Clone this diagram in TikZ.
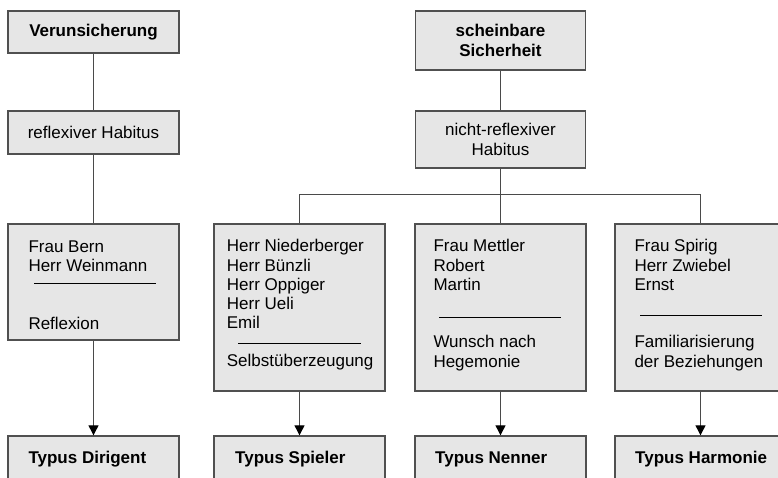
\documentclass[tikz,border=0pt]{standalone}
\usepackage{fontspec}
\setmainfont{Liberation Sans}
\usetikzlibrary{arrows.meta}
\definecolor{boxfill}{HTML}{E6E6E6}
\definecolor{boxline}{HTML}{505050}
\definecolor{conline}{HTML}{4A4A4A}
\begin{document}
\begin{tikzpicture}[x=1pt,y=-1pt,
  box/.style={draw=boxline,fill=boxfill,line width=1.4pt,rectangle,inner sep=0pt},
  headbox/.style={box,font=\fontsize{17}{19.5}\selectfont\bfseries,align=center},
  midbox/.style={box,font=\fontsize{17}{19.5}\selectfont,align=center},
  txt/.style={anchor=base west,inner sep=0pt,font=\fontsize{17}{19.5}\selectfont},
  btxt/.style={txt,font=\fontsize{17}{19.5}\selectfont\bfseries},
  con/.style={draw=conline,line width=1.2pt},
  arr/.style={con,-{Triangle[width=10pt,length=10pt,color=black]}},
  sep/.style={draw=black,line width=1pt}]
\useasboundingbox (0,0) rectangle (778,478);
\clip (0,0) rectangle (778,478);
% column 1
\node[headbox,minimum width=171pt,minimum height=42pt] (v1) at (93.5,32) {Verunsicherung};
\node[midbox,minimum width=171pt,minimum height=43pt] (h1) at (93.5,132.5) {reflexiver Habitus};
\node[box,minimum width=171pt,minimum height=116pt] (c1) at (93.5,282) {};
\node[box,minimum width=171pt,minimum height=46pt] (t1) at (93.5,459) {};
\node[txt] (c1a) at (28.3,252) {Frau Bern};
\node[txt] (c1b) at (28.3,271.3) {Herr Weinmann};
\coordinate (s1a) at (34,283.3); \coordinate (s1b) at (155.7,283.3);
\draw[sep] (s1a) -- (s1b);
\node[txt] (c1c) at (28.3,329) {Reflexion};
\node[btxt] (t1t) at (28.3,463.3) {Typus Dirigent};
% column 2
\node[headbox,minimum width=170pt,minimum height=59pt] (v2) at (500.5,40.5) {scheinbare\\Sicherheit};
\node[midbox,minimum width=170pt,minimum height=57pt] (h2) at (500.5,139.5) {nicht-reflexiver\\Habitus};
\node[box,minimum width=171pt,minimum height=167pt] (c2) at (299.5,307.5) {};
\node[box,minimum width=171pt,minimum height=46pt] (t2) at (299.5,459) {};
\node[txt] (c2a) at (226.7,251.7) {Herr Niederberger};
\node[txt] (c2b) at (226.7,271) {Herr Bünzli};
\node[txt] (c2c) at (226.7,290.3) {Herr Oppiger};
\node[txt] (c2d) at (226.7,309.6) {Herr Ueli};
\node[txt] (c2e) at (226.7,328.9) {Emil};
\coordinate (s2a) at (238,343); \coordinate (s2b) at (360.7,343);
\draw[sep] (s2a) -- (s2b);
\node[txt] (c2f) at (226.7,366.7) {Selbstüberzeugung};
\node[btxt] (t2t) at (235,463.3) {Typus Spieler};
% column 3
\node[box,minimum width=171pt,minimum height=167pt] (c3) at (500.5,307.5) {};
\node[box,minimum width=171pt,minimum height=46pt] (t3) at (500.5,459) {};
\node[txt] (c3a) at (433.3,251.7) {Frau Mettler};
\node[txt] (c3b) at (433.3,271) {Robert};
\node[txt] (c3c) at (433.3,290.3) {Martin};
\coordinate (s3a) at (439,317.7); \coordinate (s3b) at (561.3,317.7);
\draw[sep] (s3a) -- (s3b);
\node[txt] (c3d) at (433.3,347.7) {Wunsch nach};
\node[txt] (c3e) at (433.3,367) {Hegemonie};
\node[btxt] (t3t) at (435,463.3) {Typus Nenner};
% column 4
\node[box,minimum width=171pt,minimum height=167pt] (c4) at (700.5,307.5) {};
\node[box,minimum width=171pt,minimum height=46pt] (t4) at (700.5,459) {};
\node[txt] (c4a) at (634.3,251.7) {Frau Spirig};
\node[txt] (c4b) at (634.3,271) {Herr Zwiebel};
\node[txt] (c4c) at (634.3,290.3) {Ernst};
\coordinate (s4a) at (640,315); \coordinate (s4b) at (762,315);
\draw[sep] (s4a) -- (s4b);
\node[txt] (c4d) at (634.3,347.7) {Familiarisierung};
\node[txt] (c4e) at (634.3,367) {der Beziehungen};
\node[btxt] (t4t) at (635,463.3) {Typus Harmonie};
% connectors
\draw[con] (v1.south) -- (h1.north);
\draw[con] (h1.south) -- (c1.north);
\draw[arr] (c1.south) -- (t1.north);
\draw[con] (v2.south) -- (h2.north);
\draw[con] (h2.south) -- (c3.north);
\draw[con] (c2.north) -- ++(0,-29) -| (c4.north);
\draw[arr] (c2.south) -- (t2.north);
\draw[arr] (c3.south) -- (t3.north);
\draw[arr] (c4.south) -- (t4.north);
\end{tikzpicture}
\end{document}
